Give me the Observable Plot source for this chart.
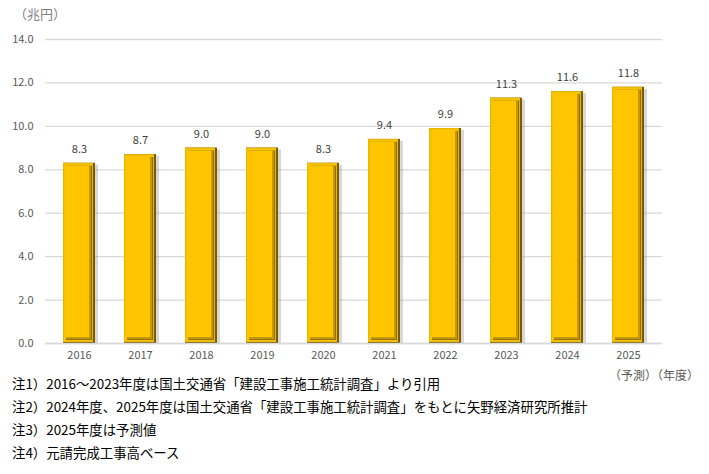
<!DOCTYPE html>
<html><head><meta charset="utf-8">
<script src="https://cdn.jsdelivr.net/npm/d3@7"></script>
<script src="https://cdn.jsdelivr.net/npm/@observablehq/plot@0.6"></script>
<style>
body{margin:0;background:#fff;font-family:"Noto Sans CJK JP","Noto Sans",sans-serif;}
#wrap{position:relative;width:709px;}
#chart svg{display:block;}
.unit{position:absolute;left:14px;top:4px;font-size:13px;color:#7f7f7f;}
.yr{position:absolute;left:609px;top:366px;font-size:12px;color:#595959;}
.notes{padding-left:12px;font-size:13.4px;color:#000;line-height:23px;}
</style></head><body>
<div id="wrap"><div id="chart"></div>
<div class="unit">（兆円）</div>
<div class="yr">（予測）（年度）</div>
<div class="notes">
<div>注1）2016～2023年度は国土交通省「建設工事施工統計調査」より引用</div>
<div>注2）2024年度、2025年度は国土交通省「建設工事施工統計調査」をもとに矢野経済研究所推計</div>
<div>注3）2025年度は予測値</div>
<div>注4）元請完成工事高ベース</div>
</div></div>
<script>
const years = ["2016","2017","2018","2019","2020","2021","2022","2023","2024","2025"];
const values = [8.3, 8.7, 9.0, 9.0, 8.3, 9.4, 9.9, 11.3, 11.6, 11.8];
const yTicks = [0, 2, 4, 6, 8, 10, 12, 14];
const data = years.map((y, i) => ({year: y, value: values[i]}));
const chart = Plot.plot({
  width: 709, height: 372,
  marginTop: 39, marginBottom: 29, marginLeft: 45, marginRight: 47,
  style: {fontFamily: "Noto Sans CJK JP, Noto Sans, sans-serif", fontSize: "11px", color: "#595959"},
  x: {domain: years, paddingInner: 0.48, paddingOuter: 0.26, label: null},
  y: {domain: [0, 14], label: null},
  marks: [
    Plot.gridY(yTicks, {stroke: "#d9d9d9", strokeOpacity: 1, strokeWidth: 1.3}),
    Plot.axisY({ticks: yTicks, tickSize: 0, tickPadding: 12, tickFormat: d => d.toFixed(1), label: null, fill: "#595959"}),
    Plot.axisX({tickSize: 0, tickPadding: 8, label: null, fill: "#595959"}),
    Plot.barY(data, {x: "year", y: "value", fill: "#7f7f7f", fillOpacity: 0.3, dx: 3, insetTop: 2}),
    Plot.barY(data, {x: "year", y: "value", fill: "#7a5b00"}),
    Plot.barY(data, {x: "year", y: "value", fill: "#eab600", insetRight: 2, insetBottom: 1}),
    Plot.barY(data, {x: "year", y: "value", fill: "#f7c400", insetRight: 3, insetBottom: 2, insetLeft: 1, insetTop: 1}),
    Plot.barY(data, {x: "year", y: "value", fill: "#8f6c00", insetLeft: 3, insetRight: 3, insetTop: 3, insetBottom: 3}),
    Plot.barY(data, {x: "year", y: "value", fill: "#c49800", insetLeft: 3, insetRight: 4, insetTop: 3, insetBottom: 4}),
    Plot.barY(data, {x: "year", y: "value", fill: "#ffc600", insetLeft: 3, insetRight: 6, insetTop: 3, insetBottom: 6}),
    Plot.ruleY([0], {stroke: "#d9d9d9", strokeWidth: 1.5}),
    Plot.text(data, {x: "year", y: "value", text: d => d.value.toFixed(1), dy: -14, fill: "#404040", fontSize: 11})
  ]
});
document.getElementById("chart").appendChild(chart);
</script></body></html>
